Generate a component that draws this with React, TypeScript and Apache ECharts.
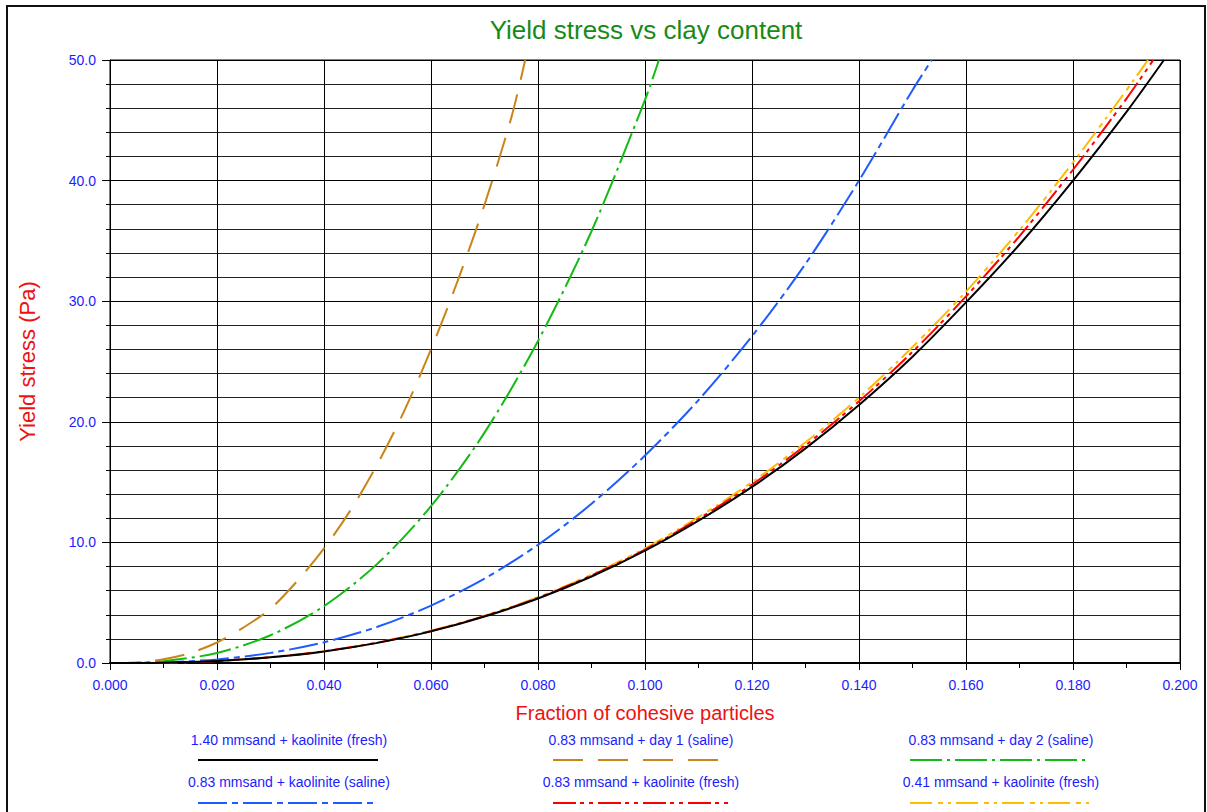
import React, { useEffect, useRef } from "react";
import * as echarts from "echarts";

const titleText = "Yield stress vs clay content";
const xAxisName = "Fraction of cohesive particles";
const yAxisName = "Yield stress (Pa)";

const seriesNames = [
  "1.40 mmsand + kaolinite (fresh)",
  "0.83 mmsand + day 1 (saline)",
  "0.83 mmsand + day 2 (saline)",
  "0.83 mmsand + kaolinite (saline)",
  "0.83 mmsand + kaolinite (fresh)",
  "0.41 mmsand + kaolinite (fresh)",
];

// 1.40 mm sand + kaolinite (fresh)
const xBlack = [0, 0.01, 0.02, 0.03, 0.04, 0.05, 0.06, 0.07, 0.08, 0.09, 0.1, 0.11, 0.12, 0.13, 0.14, 0.15, 0.16, 0.17, 0.18, 0.19, 0.197];
const yBlack = [0, 0.03, 0.17, 0.47, 0.96, 1.67, 2.62, 3.85, 5.35, 7.17, 9.31, 11.8, 14.6, 17.8, 21.4, 25.4, 29.9, 34.7, 40.0, 45.7, 50.0];

// 0.83 mm sand + day 1 (saline)
const xBrown = [0, 0.005, 0.01, 0.015, 0.02, 0.025, 0.03, 0.035, 0.04, 0.045, 0.05, 0.055, 0.06, 0.065, 0.07, 0.075, 0.0776];
const yBrown = [0, 0.05, 0.31, 0.83, 1.7, 2.96, 4.5, 6.8, 9.5, 12.7, 16.5, 20.9, 26.0, 31.7, 38.0, 45.2, 50.0];

// 0.83 mm sand + day 2 (saline)
const xGreen = [0, 0.005, 0.01, 0.02, 0.03, 0.04, 0.05, 0.06, 0.07, 0.08, 0.09, 0.1, 0.1026];
const yGreen = [0, 0.03, 0.15, 0.83, 2.3, 4.72, 8.24, 13.0, 19.1, 26.7, 35.8, 46.7, 50.0];

// 0.83 mm sand + kaolinite (saline)
const xBlue = [0, 0.005, 0.01, 0.02, 0.03, 0.04, 0.05, 0.06, 0.07, 0.08, 0.09, 0.1, 0.11, 0.12, 0.13, 0.14, 0.15, 0.1536];
const yBlue = [0, 0.01, 0.05, 0.3, 0.84, 1.72, 3.0, 4.76, 7.0, 9.8, 13.2, 17.2, 21.8, 27.1, 33.1, 40.0, 47.5, 50.0];

// 0.83 mm sand + kaolinite (fresh)
const xRed = [0, 0.01, 0.02, 0.03, 0.04, 0.05, 0.06, 0.07, 0.08, 0.09, 0.1, 0.11, 0.12, 0.13, 0.14, 0.15, 0.16, 0.17, 0.18, 0.19, 0.195];
const yRed = [0, 0.03, 0.17, 0.48, 0.97, 1.69, 2.65, 3.89, 5.4, 7.25, 9.4, 11.95, 14.8, 18.05, 21.7, 25.8, 30.4, 35.4, 40.9, 46.8, 50.0];

// 0.41 mm sand + kaolinite (fresh)
const xYellow = [0, 0.01, 0.02, 0.03, 0.04, 0.05, 0.06, 0.07, 0.08, 0.09, 0.1, 0.11, 0.12, 0.13, 0.14, 0.15, 0.16, 0.17, 0.18, 0.19, 0.194];
const yYellow = [0, 0.03, 0.17, 0.48, 0.97, 1.7, 2.67, 3.92, 5.45, 7.32, 9.5, 12.1, 15.0, 18.3, 22.0, 26.2, 30.8, 35.9, 41.5, 47.5, 50.0];

const seriesX = [xBlack, xBrown, xGreen, xBlue, xRed, xYellow];
const seriesY = [yBlack, yBrown, yGreen, yBlue, yRed, yYellow];

const colors = ["#000000", "#c8861a", "#14bb14", "#1f5cff", "#ff0000", "#ffbb00"];
const dashes: (number[] | "solid")[] = [
  "solid",
  [30, 15],
  [32, 5, 3, 5],
  [29, 5, 6, 5],
  [23, 4, 4, 5, 4, 5],
  [22, 6, 5, 5, 3, 5],
];

const SANS = "'Liberation Sans', Arial, sans-serif";
const BLUE = "#1c1cff";
const RED = "#ee1111";

export default function App() {
  const ref = useRef<HTMLDivElement>(null);
  useEffect(() => {
    if (!ref.current) return;
    const chart = echarts.init(ref.current, undefined, { renderer: "svg" });

    const legendCols = [{ lx: 198, tx: 289 }, { lx: 553, tx: 641 }, { lx: 910, tx: 1001 }];
    const legendRows = [{ ty: 740, ly: 760 }, { ty: 782, ly: 803 }];
    const legendGraphics: any[] = [];
    seriesNames.forEach((name, i) => {
      const c = legendCols[i % 3];
      const r = legendRows[Math.floor(i / 3)];
      legendGraphics.push({
        type: "text",
        x: c.tx,
        y: r.ty,
        silent: true,
        style: {
          text: name,
          fill: BLUE,
          font: `14px ${SANS}`,
          align: "center",
          verticalAlign: "middle",
        },
      });
      legendGraphics.push({
        type: "line",
        silent: true,
        shape: { x1: c.lx, y1: r.ly, x2: c.lx + 180, y2: r.ly },
        style: {
          stroke: colors[i],
          lineWidth: 2,
          lineDash: dashes[i] === "solid" ? null : dashes[i],
        },
      });
    });

    const option: any = {
      animation: false,
      backgroundColor: "#ffffff",
      grid: {
        left: 110,
        right: 27,
        top: 60,
        bottom: 149,
        show: true,
        borderColor: "#000",
        borderWidth: 1,
      },
      xAxis: {
        type: "value",
        min: 0,
        max: 0.2,
        interval: 0.02,
        name: xAxisName,
        nameLocation: "middle",
        nameGap: 40,
        nameTextStyle: { color: RED, fontSize: 20, fontFamily: SANS },
        axisLine: { lineStyle: { color: "#000", width: 2 } },
        axisTick: { show: true, length: 7, lineStyle: { color: "#000" } },
        minorTick: { show: true, splitNumber: 2, length: 5, lineStyle: { color: "#000" } },
        axisLabel: {
          color: BLUE,
          fontSize: 14,
          fontFamily: SANS,
          margin: 15,
          formatter: (v: number) => v.toFixed(3),
        },
        splitLine: { show: true, lineStyle: { color: "#000", width: 1 } },
      },
      yAxis: {
        type: "value",
        min: 0,
        max: 50,
        interval: 10,
        name: yAxisName,
        nameLocation: "middle",
        nameGap: 72,
        nameTextStyle: { color: RED, fontSize: 22, fontFamily: SANS },
        axisLine: { show: true, lineStyle: { color: "#000", width: 1 } },
        axisTick: { show: true, length: 8, lineStyle: { color: "#000" } },
        minorTick: { show: true, splitNumber: 5, length: 4, lineStyle: { color: "#000" } },
        minorSplitLine: { show: true, lineStyle: { color: "#222", width: 1 } },
        axisLabel: {
          color: BLUE,
          fontSize: 14,
          fontFamily: SANS,
          margin: 14,
          formatter: (v: number) => v.toFixed(1),
        },
        splitLine: { show: true, lineStyle: { color: "#000", width: 1 } },
      },
      series: seriesNames.map((name, i) => ({
        name,
        type: "line",
        smooth: 0.3,
        showSymbol: false,
        symbol: "none",
        clip: true,
        data: seriesX[i].map((x, j) => [x, seriesY[i][j]]),
        lineStyle: { color: colors[i], width: 2, type: dashes[i] },
        itemStyle: { color: colors[i] },
        z: 10 - i,
      })),
      graphic: [
        {
          type: "rect",
          silent: true,
          shape: { x: 7, y: 6, width: 1198, height: 830 },
          style: { fill: "none", stroke: "#111", lineWidth: 2 },
        },
        {
          type: "text",
          x: 646,
          y: 30,
          silent: true,
          style: {
            text: titleText,
            fill: "#178a17",
            font: `26px ${SANS}`,
            align: "center",
            verticalAlign: "middle",
          },
        },
        ...legendGraphics,
      ],
    };
    chart.setOption(option);
    return () => chart.dispose();
  }, []);
  return (
    <div
      ref={ref}
      style={{ position: "fixed", left: 0, top: 0, width: 1207, height: 812 }}
    />
  );
}
